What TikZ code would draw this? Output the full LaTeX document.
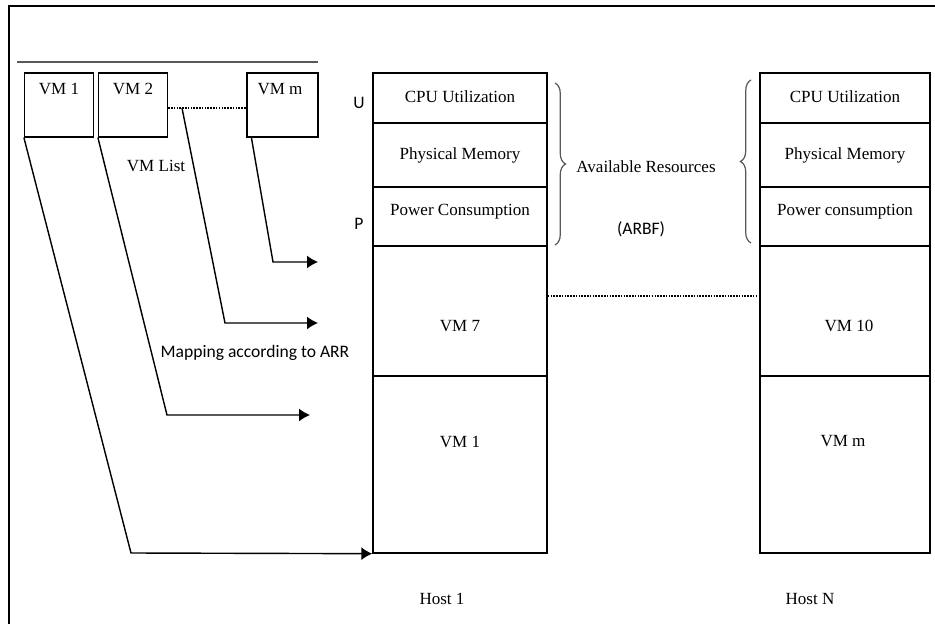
\documentclass[tikz,border=0pt]{standalone}
\usepackage{fontspec}
\setmainfont{Liberation Serif}
\newfontfamily\calibri{Carlito}
\usetikzlibrary{arrows.meta,decorations.pathreplacing}

\begin{document}
\begin{tikzpicture}[x=0.02cm, y=-0.02cm, line width=0.7pt,
    vmbox/.style={draw, minimum width=1.38cm, minimum height=1.28cm, inner sep=0pt},
    rowbox/.style={draw, line width=0.8pt, minimum width=3.48cm, inner sep=0pt},
    rowboxn/.style={rowbox, minimum width=3.4cm},
    txt/.style={font=\fontsize{9.7}{11}\selectfont, inner sep=1pt},
    sans/.style={font=\calibri\fontsize{10}{12}\selectfont, inner sep=1pt},
    maparrow/.style={draw, line width=0.8pt, -{Latex[length=0.22cm, width=0.26cm]}},
    dots/.style={dash pattern=on 0.9pt off 0.7pt, line width=1pt},
    resbrace/.style={decorate, decoration={brace, amplitude=6pt}, gray!70!black}
  ]

  % --- Rahmen ---
  \useasboundingbox (0,0) rectangle (935,624);
  \draw[line width=1.3pt] (9,624) -- (9,6) -- (935,6);

  % --- VM-Liste ---
  \draw[gray!70!black, line width=1pt] (17,62) -- (318,62);
  \node[vmbox] (vm1) at (59,105) {};
  \node[vmbox] (vm2) at (133,105) {};
  \node[vmbox, minimum width=1.42cm] (vmm) at (282.5,105) {};
  \node[txt] (vm1txt) at (59,89) {VM 1};
  \node[txt] (vm2txt) at (133,89) {VM 2};
  \node[txt] (vmmtxt) at (280,89) {VM m};
  \draw[dots] (vm2.east |- 0,108) -- (vmm.west |- 0,108);
  \coordinate (vmdot) at (182,108);
  \node[txt] (vmlist) at (156,166) {VM List};

  % --- Host 1 ---
  \node[rowbox, minimum height=1.0cm]  (h1cpu) at (460,98)    {};
  \node[rowbox, minimum height=1.28cm] (h1mem) at (460,155)   {};
  \node[rowbox, minimum height=1.18cm] (h1pow) at (460,216.5) {};
  \node[rowbox, minimum height=2.6cm]  (h1vm7) at (460,311)   {};
  \node[rowbox, minimum height=3.54cm] (h1vm1) at (460,464.5) {};
  \node[txt] (h1cputxt) at (460,97)  {CPU Utilization};
  \node[txt] (h1memtxt) at (460,155) {Physical Memory};
  \node[txt] (h1powtxt) at (460,212) {Power Consumption};
  \node[txt] (h1vm7txt) at (460,326) {VM 7};
  \node[txt] (h1vm1txt) at (460,442) {VM 1};
  \node[sans] (ulabel) at (359,103) {U};
  \node[sans] (plabel) at (359,224) {P};
  \node[txt] (host1) at (442,599) {Host 1};

  % --- Host N ---
  \node[rowboxn, minimum height=1.0cm]  (hncpu) at (845,98)    {};
  \node[rowboxn, minimum height=1.28cm] (hnmem) at (845,155)   {};
  \node[rowboxn, minimum height=1.18cm] (hnpow) at (845,216.5) {};
  \node[rowboxn, minimum height=2.6cm]  (hnvm10) at (845,311)  {};
  \node[rowboxn, minimum height=3.54cm] (hnvmm) at (845,464.5) {};
  \node[txt] (hncputxt) at (845,97)  {CPU Utilization};
  \node[txt] (hnmemtxt) at (845,155) {Physical Memory};
  \node[txt] (hnpowtxt) at (845,212) {Power consumption};
  \node[txt] (hnvm10txt) at (849,326) {VM 10};
  \node[txt] (hnvmmtxt) at (843,441) {VM m};
  \node[txt] (hostn) at (810,599) {Host N};

  % --- Verfuegbare Ressourcen ---
  \draw[resbrace] (555,83) -- (555,245);
  \draw[resbrace] (751,243) -- (751,80);
  \node[txt] (avail) at (646,167) {Available Resources};
  \node[sans] (arbf) at (641,229) {(ARBF)};
  \draw[dots] (h1vm7.east |- 0,296) -- (hnvm10.west |- 0,296);

  % --- Zuordnung ---
  \coordinate (bendm) at (273,262);
  \coordinate (endm)  at (318,262);
  \coordinate (bend7) at (225,323);
  \coordinate (end7)  at (318,323);
  \coordinate (bend2) at (167,415);
  \coordinate (end2)  at (310,415);
  \coordinate (bend1) at (131,553);
  \draw[maparrow] ([xshift=0.1cm]vmm.south west) -- (bendm) -- (endm);
  \draw[maparrow] (vmdot) -- (bend7) -- (end7);
  \draw[maparrow] (vm2.south west) -- (bend2) -- (end2);
  \draw[maparrow] (vm1.south west) -- (bend1) -- (h1vm1.south west);
  \node[sans] (maplabel) at (255,353) {Mapping according to ARR};

\end{tikzpicture}
\end{document}
